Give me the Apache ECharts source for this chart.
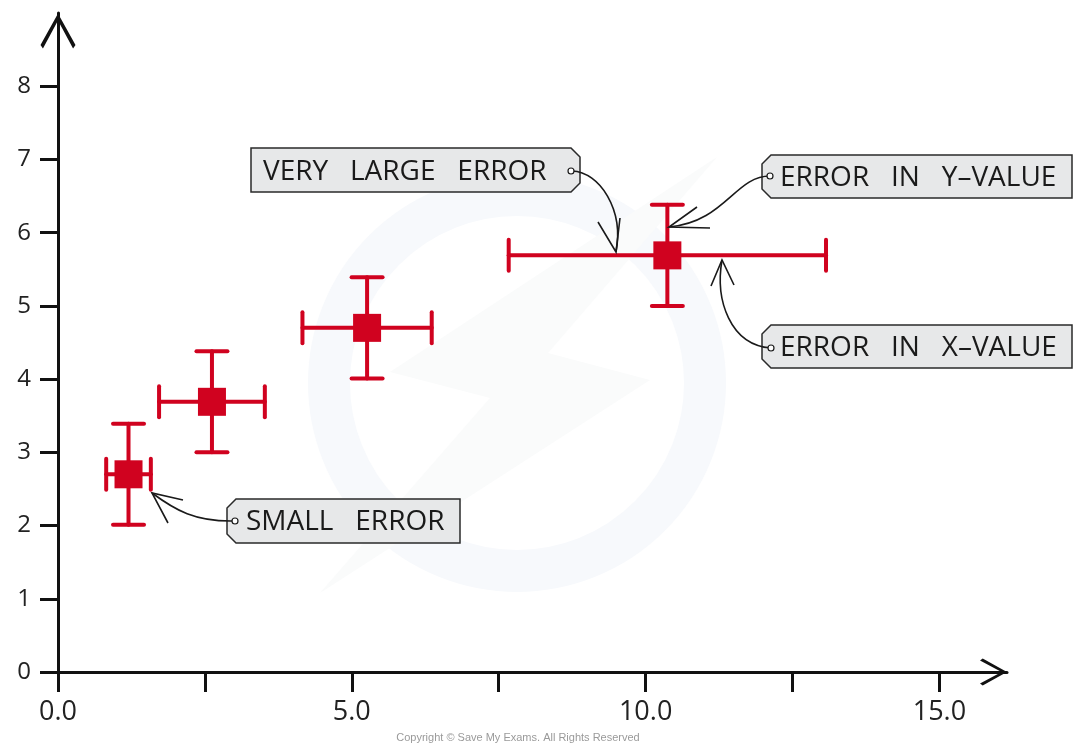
<!DOCTYPE html>
<html>
<head>
<meta charset="utf-8">
<script src="https://cdn.jsdelivr.net/npm/echarts@6/dist/echarts.min.js"></script>
<style>
  html, body { margin: 0; padding: 0; background: #ffffff; }
  #chart { width: 1073px; height: 744px; }
</style>
</head>
<body>
<div id="chart"></div>
<script>
// ---- data ----
const xValues = [1.2, 2.62, 5.26, 10.37];
const yValues = [2.7, 3.69, 4.7, 5.69];
const xErrors = [0.38, 0.9, 1.1, 2.7];
const yErrors = [0.69, 0.69, 0.69, 0.69];
const xTickValues = [0, 2.5, 5, 7.5, 10, 12.5, 15];
const xLabelValues = [0, 5, 10, 15];
const yTickValues = [0, 1, 2, 3, 4, 5, 6, 7, 8];
const annotationTexts = ['VERY   LARGE   ERROR', 'ERROR   IN   Y\u2013VALUE', 'ERROR   IN   X\u2013VALUE', 'SMALL   ERROR'];

const RED = '#d0021f';
const INK = '#1a1a1a';
const chevron = 'path://M50,0 L100,90 L93,100 L50,20 L7,100 L0,90 Z';

const chart = echarts.init(document.getElementById('chart'), null, { renderer: 'canvas' });

const seriesData = xValues.map((x, i) => [x, yValues[i], xErrors[i], yErrors[i]]);

function renderItem(params, api) {
  const x = api.value(0), y = api.value(1), ex = api.value(2), ey = api.value(3);
  const c = api.coord([x, y]);
  const l = api.coord([x - ex, y]);
  const r = api.coord([x + ex, y]);
  const t = api.coord([x, y + ey]);
  const b = api.coord([x, y - ey]);
  const cap = 15.5;
  const sq = 28;
  const ls = { stroke: RED, lineWidth: 4, lineCap: 'round' };
  return {
    type: 'group',
    children: [
      { type: 'line', shape: { x1: l[0], y1: l[1], x2: r[0], y2: r[1] }, style: ls },
      { type: 'line', shape: { x1: t[0], y1: t[1], x2: b[0], y2: b[1] }, style: ls },
      { type: 'line', shape: { x1: l[0], y1: l[1] - cap, x2: l[0], y2: l[1] + cap }, style: ls },
      { type: 'line', shape: { x1: r[0], y1: r[1] - cap, x2: r[0], y2: r[1] + cap }, style: ls },
      { type: 'line', shape: { x1: t[0] - cap, y1: t[1], x2: t[0] + cap, y2: t[1] }, style: ls },
      { type: 'line', shape: { x1: b[0] - cap, y1: b[1], x2: b[0] + cap, y2: b[1] }, style: ls },
      { type: 'rect', shape: { x: c[0] - sq / 2, y: c[1] - sq / 2, width: sq, height: sq }, style: { fill: RED } }
    ]
  };
}

const textStyleBase = { fontFamily: 'Open Sans', fontSize: 28, fill: INK, verticalAlign: 'middle', align: 'left' };
const boxStyle = { fill: '#e7e8e9', stroke: '#2a2a2a', lineWidth: 1.5 };
const connStyle = { stroke: INK, lineWidth: 1.6, fill: null };

function tag(points, tx, ty, text) {
  return [
    { type: 'polygon', shape: { points: points }, style: boxStyle, z: 10 },
    { type: 'text', x: tx, y: ty, style: Object.assign({ text: text }, textStyleBase), z: 11 }
  ];
}
function dot(x, y) {
  return { type: 'circle', shape: { cx: x, cy: y, r: 3 }, style: { fill: '#ffffff', stroke: INK, lineWidth: 1.2 }, z: 12 };
}
function curve(s) {
  return { type: 'bezierCurve', shape: s, style: connStyle, z: 12 };
}
function head(pts) {
  return { type: 'polyline', shape: { points: pts }, style: { stroke: INK, lineWidth: 1.6, fill: null }, z: 12 };
}

const graphics = [].concat(
  // faint watermark
  [
    { type: 'circle', shape: { cx: 517, cy: 383, r: 188 }, style: { fill: null, stroke: '#f7f9fc', lineWidth: 42 }, z: -10, silent: true },
    { type: 'polygon', shape: { points: [[717,157],[390,372],[490,398],[320,593],[650,380],[548,353]] }, style: { fill: '#fafbfb' }, z: -10, silent: true }
  ],
  tag([[251,148],[571,148],[580,157],[580,183],[571,192],[251,192]], 263, 172, annotationTexts[0]),
  tag([[771,155],[1072,155],[1072,198],[771,198],[762,189],[762,164]], 780, 178, annotationTexts[1]),
  tag([[771,325],[1072,325],[1072,368],[771,368],[762,359],[762,334]], 780, 348, annotationTexts[2]),
  tag([[236,499],[460,499],[460,543],[236,543],[227,534],[227,508]], 246, 522, annotationTexts[3]),
  [
    // very large error
    curve({ x1: 572, y1: 171, cpx1: 600, cpy1: 172, cpx2: 624, cpy2: 210, x2: 616, y2: 252 }),
    head([[598,222],[616,252],[620,218]]),
    dot(571, 171),
    // error in y
    curve({ x1: 770, y1: 176, cpx1: 735, cpy1: 176, cpx2: 725, cpy2: 222, x2: 669, y2: 227 }),
    head([[697,207],[669,227],[710,228]]),
    dot(770, 176),
    // error in x
    curve({ x1: 771, y1: 348, cpx1: 730, cpy1: 345, cpx2: 715, cpy2: 300, x2: 722, y2: 260 }),
    head([[711,286],[722,260],[734,285]]),
    dot(771, 348),
    // small error
    curve({ x1: 235, y1: 521, cpx1: 195, cpy1: 522, cpx2: 175, cpy2: 510, x2: 152, y2: 493 }),
    head([[183,500],[152,493],[168,523]]),
    dot(235, 521),
    // copyright
    { type: 'text', x: 518, y: 738, style: { text: 'Copyright \u00a9 Save My Exams. All Rights Reserved', fontFamily: 'Liberation Sans Narrow, Liberation Sans', fontSize: 11, fill: '#9a9a9a', align: 'center', verticalAlign: 'middle' }, z: 12 }
  ]
);

const option = {
  backgroundColor: '#ffffff',
  animation: false,
  grid: { left: 58, right: 66, top: 13, bottom: 72, containLabel: false },
  xAxis: {
    type: 'value', min: 0, max: 16.15,
    axisLine: { show: true, onZero: false, lineStyle: { color: '#111', width: 3 }, symbol: ['none', chevron], symbolSize: [33, 27], symbolOffset: [0, -13.5] },
    axisTick: { show: true, inside: false, length: 20, customValues: xTickValues, lineStyle: { color: '#111', width: 3 } },
    axisLabel: { show: true, customValues: xLabelValues, formatter: v => Number(v).toFixed(1), fontSize: 27, color: '#222', fontFamily: 'Open Sans', margin: 27 },
    splitLine: { show: false }
  },
  yAxis: {
    type: 'value', min: 0, max: 9,
    axisLine: { show: true, onZero: false, lineStyle: { color: '#111', width: 3 }, symbol: ['none', chevron], symbolSize: [35, 36], symbolOffset: [0, -18] },
    axisTick: { show: true, inside: false, length: 18, customValues: yTickValues, lineStyle: { color: '#111', width: 3 } },
    axisLabel: { show: true, customValues: yTickValues, fontSize: 24, color: '#222', fontFamily: 'Open Sans', margin: 27 },
    splitLine: { show: false }
  },
  series: [{
    type: 'custom',
    renderItem: renderItem,
    data: seriesData,
    encode: { x: 0, y: 1 },
    clip: false,
    z: 5
  }],
  graphic: graphics
};
chart.setOption(option);
</script>
</body>
</html>
